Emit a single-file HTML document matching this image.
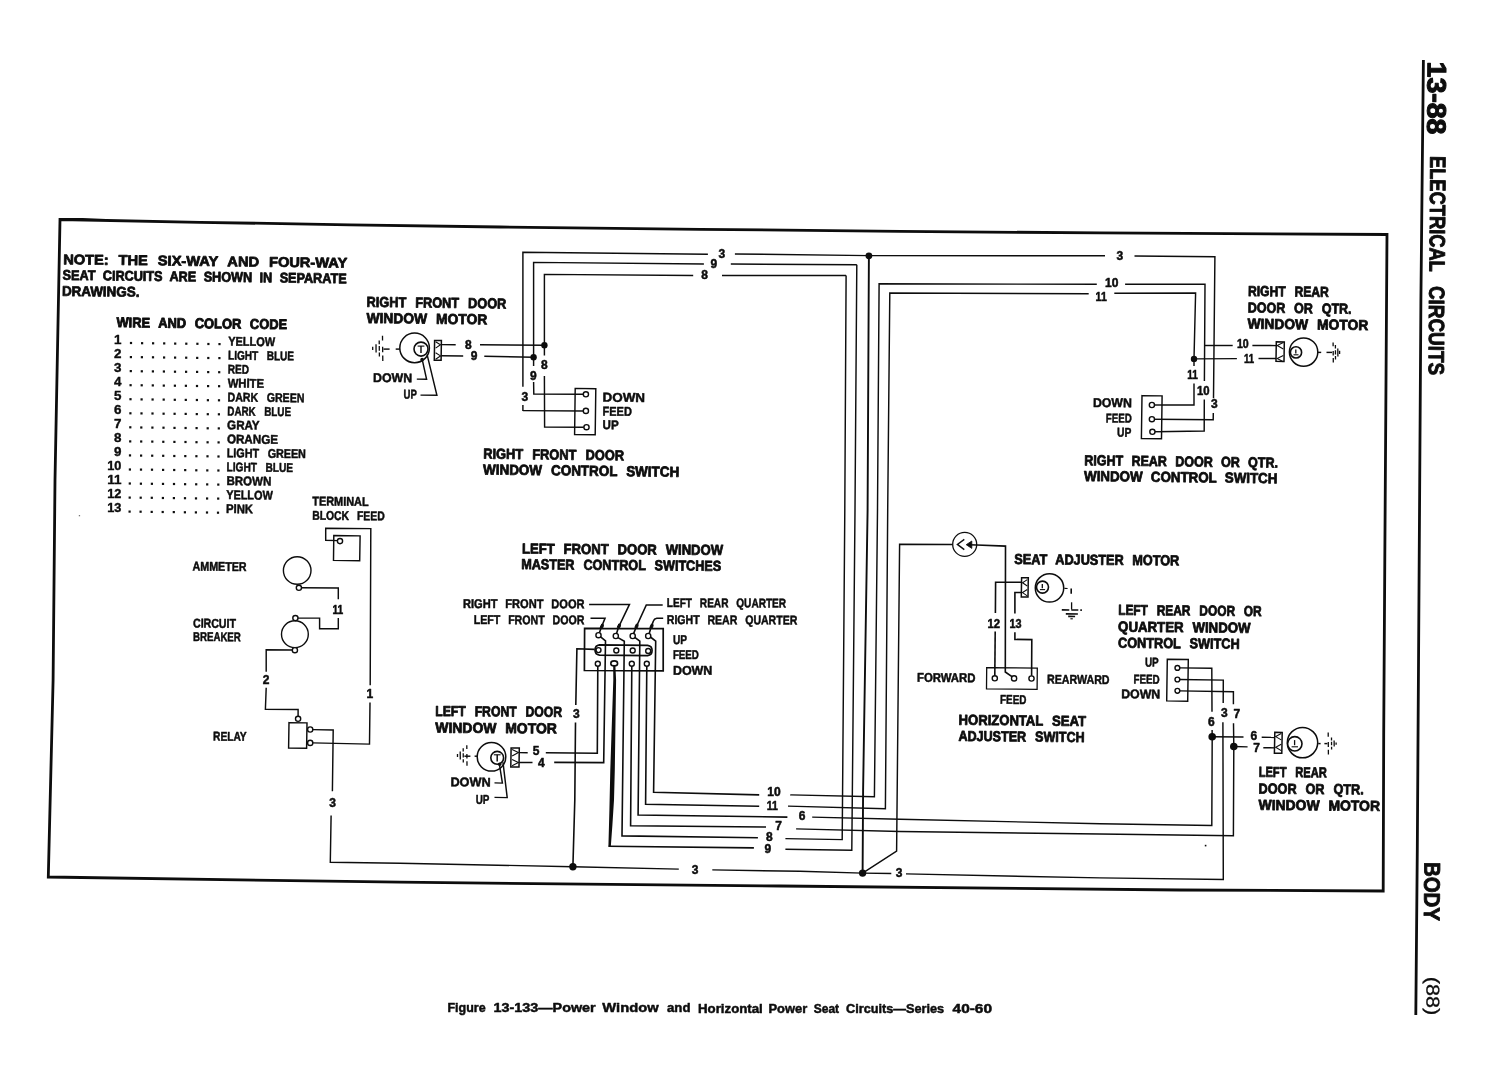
<!DOCTYPE html>
<html lang="en">
<head>
<meta charset="utf-8">
<title>Figure 13-133 Power Window and Horizontal Power Seat Circuits</title>
<style>
html,body{margin:0;padding:0;background:#fff;}
body{width:1492px;height:1088px;overflow:hidden;}
svg{display:block;will-change:transform;}
svg text{font-family:"Liberation Sans",sans-serif;font-weight:700;fill:#0d0d0d;stroke:none;}
</style>
</head>
<body>
<svg width="1492" height="1088" viewBox="0 0 1492 1088" fill="none" stroke="#0d0d0d" stroke-width="1.45" stroke-linecap="butt" stroke-linejoin="miter">
<rect x="0" y="0" width="1492" height="1088" fill="#fff" stroke="none"/>
<g id="frame">
<polyline points="60,219.5 200,222.3 350,224.8 500,227 700,229.3 900,231.4 1100,232.9 1387,234.5 1384.8,560 1383.7,735 1383.2,891 1180,890 780,886 400,882.2 48.3,877 53.1,680 55,480 60,219.5 200,222.3" stroke-width="2.8"/>
<polyline points="1423.4,60 1420.9,300 1417.3,850 1415.8,1015" stroke-width="2.8"/>
</g>
<g id="header">
<text x="1427.7" y="61.6" font-size="26.6" style="stroke:#0d0d0d;stroke-width:1.1px;stroke-linejoin:round;" textLength="72.8" lengthAdjust="spacingAndGlyphs" transform="rotate(90.4 1427.7 61.6)">13-88</text>
<text x="1430.3" y="156" font-size="22" style="stroke:#0d0d0d;stroke-width:0.9px;stroke-linejoin:round;" textLength="115.8" lengthAdjust="spacingAndGlyphs" transform="rotate(90.4 1430.3 156)">ELECTRICAL</text>
<text x="1429.2" y="286" font-size="22" style="stroke:#0d0d0d;stroke-width:0.9px;stroke-linejoin:round;" textLength="89" lengthAdjust="spacingAndGlyphs" transform="rotate(90.4 1429.2 286)">CIRCUITS</text>
<text x="1424.4" y="862" font-size="22.5" style="stroke:#0d0d0d;stroke-width:0.9px;stroke-linejoin:round;" textLength="59" lengthAdjust="spacingAndGlyphs" transform="rotate(90.4 1424.4 862)">BODY</text>
<text x="1426.6" y="976.7" font-size="18.5" style="font-weight:400;stroke:#0d0d0d;stroke-width:0.3px;stroke-linejoin:round;" textLength="38.5" lengthAdjust="spacingAndGlyphs" transform="rotate(90.4 1426.6 976.7)">(88)</text>
</g>
<g id="caption">
<text font-size="13.2" style="stroke:#0d0d0d;stroke-width:0.5px;stroke-linejoin:round;"><tspan x="447.5" y="1011.6" textLength="38.1" lengthAdjust="spacingAndGlyphs">Figure</tspan> <tspan x="493.5" y="1011.8" textLength="102.2" lengthAdjust="spacingAndGlyphs">13-133—Power</tspan> <tspan x="602.3" y="1012.1" textLength="56.3" lengthAdjust="spacingAndGlyphs">Window</tspan> <tspan x="667" y="1012.4" textLength="23.5" lengthAdjust="spacingAndGlyphs">and</tspan> <tspan x="698" y="1012.5" textLength="64.8" lengthAdjust="spacingAndGlyphs">Horizontal</tspan> <tspan x="768.4" y="1012.7" textLength="38.8" lengthAdjust="spacingAndGlyphs">Power</tspan> <tspan x="813.8" y="1012.9" textLength="25.3" lengthAdjust="spacingAndGlyphs">Seat</tspan> <tspan x="846" y="1013" textLength="98.2" lengthAdjust="spacingAndGlyphs">Circuits—Series</tspan> <tspan x="952.6" y="1013.4" textLength="39.4" lengthAdjust="spacingAndGlyphs">40-60</tspan></text>
</g>
<g id="legend">
<text x="63.2" y="264.2" font-size="14" style="word-spacing:5.7px;stroke:#0d0d0d;stroke-width:0.8px;stroke-linejoin:round;" textLength="284" lengthAdjust="spacingAndGlyphs" transform="rotate(0.7 63.2 264.2)">NOTE: THE SIX-WAY AND FOUR-WAY</text>
<text x="62.6" y="279.8" font-size="14" style="word-spacing:4.4px;stroke:#0d0d0d;stroke-width:0.8px;stroke-linejoin:round;" textLength="284" lengthAdjust="spacingAndGlyphs" transform="rotate(0.7 62.6 279.8)">SEAT CIRCUITS ARE SHOWN IN SEPARATE</text>
<text x="61.9" y="295.8" font-size="14" style="stroke:#0d0d0d;stroke-width:0.8px;stroke-linejoin:round;" textLength="77.5" lengthAdjust="spacingAndGlyphs" transform="rotate(0.7 61.9 295.8)">DRAWINGS.</text>
<text x="116.5" y="327.1" font-size="14" style="word-spacing:5.6px;stroke:#0d0d0d;stroke-width:0.9px;stroke-linejoin:round;" textLength="170.5" lengthAdjust="spacingAndGlyphs" transform="rotate(0.7 116.5 327.1)">WIRE AND COLOR CODE</text>
<text x="121.4" y="343.6" font-size="13.4" style="stroke:#0d0d0d;stroke-width:0.4px;stroke-linejoin:round;" text-anchor="end">1</text>
<rect x="129.9" y="341.9" width="2.2" height="2.2" fill="#0d0d0d" stroke="none"/>
<rect x="141" y="342.1" width="2.2" height="2.2" fill="#0d0d0d" stroke="none"/>
<rect x="152" y="342.2" width="2.2" height="2.2" fill="#0d0d0d" stroke="none"/>
<rect x="163.1" y="342.3" width="2.2" height="2.2" fill="#0d0d0d" stroke="none"/>
<rect x="174.1" y="342.5" width="2.2" height="2.2" fill="#0d0d0d" stroke="none"/>
<rect x="185.2" y="342.6" width="2.2" height="2.2" fill="#0d0d0d" stroke="none"/>
<rect x="196.3" y="342.7" width="2.2" height="2.2" fill="#0d0d0d" stroke="none"/>
<rect x="207.3" y="342.9" width="2.2" height="2.2" fill="#0d0d0d" stroke="none"/>
<rect x="218.4" y="343" width="2.2" height="2.2" fill="#0d0d0d" stroke="none"/>
<text x="228.2" y="345.6" font-size="12.6" style="stroke:#0d0d0d;stroke-width:0.5px;stroke-linejoin:round;" textLength="46.8" lengthAdjust="spacingAndGlyphs" transform="rotate(0.7 228.2 345.6)">YELLOW</text>
<text x="121.4" y="357.7" font-size="13.4" style="stroke:#0d0d0d;stroke-width:0.4px;stroke-linejoin:round;" text-anchor="end">2</text>
<rect x="129.8" y="356" width="2.2" height="2.2" fill="#0d0d0d" stroke="none"/>
<rect x="140.8" y="356.1" width="2.2" height="2.2" fill="#0d0d0d" stroke="none"/>
<rect x="151.9" y="356.2" width="2.2" height="2.2" fill="#0d0d0d" stroke="none"/>
<rect x="163" y="356.4" width="2.2" height="2.2" fill="#0d0d0d" stroke="none"/>
<rect x="174" y="356.5" width="2.2" height="2.2" fill="#0d0d0d" stroke="none"/>
<rect x="185.1" y="356.6" width="2.2" height="2.2" fill="#0d0d0d" stroke="none"/>
<rect x="196.1" y="356.8" width="2.2" height="2.2" fill="#0d0d0d" stroke="none"/>
<rect x="207.2" y="356.9" width="2.2" height="2.2" fill="#0d0d0d" stroke="none"/>
<rect x="218.3" y="357" width="2.2" height="2.2" fill="#0d0d0d" stroke="none"/>
<text x="228" y="359.6" font-size="12.6" style="word-spacing:7.3px;stroke:#0d0d0d;stroke-width:0.5px;stroke-linejoin:round;" textLength="66" lengthAdjust="spacingAndGlyphs" transform="rotate(0.7 228 359.6)">LIGHT BLUE</text>
<text x="121.4" y="371.7" font-size="13.4" style="stroke:#0d0d0d;stroke-width:0.4px;stroke-linejoin:round;" text-anchor="end">3</text>
<rect x="129.7" y="370" width="2.2" height="2.2" fill="#0d0d0d" stroke="none"/>
<rect x="140.7" y="370.2" width="2.2" height="2.2" fill="#0d0d0d" stroke="none"/>
<rect x="151.8" y="370.3" width="2.2" height="2.2" fill="#0d0d0d" stroke="none"/>
<rect x="162.8" y="370.4" width="2.2" height="2.2" fill="#0d0d0d" stroke="none"/>
<rect x="173.9" y="370.6" width="2.2" height="2.2" fill="#0d0d0d" stroke="none"/>
<rect x="185" y="370.7" width="2.2" height="2.2" fill="#0d0d0d" stroke="none"/>
<rect x="196" y="370.8" width="2.2" height="2.2" fill="#0d0d0d" stroke="none"/>
<rect x="207.1" y="371" width="2.2" height="2.2" fill="#0d0d0d" stroke="none"/>
<rect x="218.1" y="371.1" width="2.2" height="2.2" fill="#0d0d0d" stroke="none"/>
<text x="227.8" y="373.5" font-size="12.6" style="stroke:#0d0d0d;stroke-width:0.5px;stroke-linejoin:round;" textLength="21.2" lengthAdjust="spacingAndGlyphs" transform="rotate(0.7 227.8 373.5)">RED</text>
<text x="121.4" y="385.8" font-size="13.4" style="stroke:#0d0d0d;stroke-width:0.4px;stroke-linejoin:round;" text-anchor="end">4</text>
<rect x="129.5" y="384.1" width="2.2" height="2.2" fill="#0d0d0d" stroke="none"/>
<rect x="140.6" y="384.2" width="2.2" height="2.2" fill="#0d0d0d" stroke="none"/>
<rect x="151.7" y="384.3" width="2.2" height="2.2" fill="#0d0d0d" stroke="none"/>
<rect x="162.7" y="384.5" width="2.2" height="2.2" fill="#0d0d0d" stroke="none"/>
<rect x="173.8" y="384.6" width="2.2" height="2.2" fill="#0d0d0d" stroke="none"/>
<rect x="184.8" y="384.7" width="2.2" height="2.2" fill="#0d0d0d" stroke="none"/>
<rect x="195.9" y="384.9" width="2.2" height="2.2" fill="#0d0d0d" stroke="none"/>
<rect x="207" y="385" width="2.2" height="2.2" fill="#0d0d0d" stroke="none"/>
<rect x="218" y="385.1" width="2.2" height="2.2" fill="#0d0d0d" stroke="none"/>
<text x="227.7" y="387.4" font-size="12.6" style="stroke:#0d0d0d;stroke-width:0.5px;stroke-linejoin:round;" textLength="36.3" lengthAdjust="spacingAndGlyphs" transform="rotate(0.7 227.7 387.4)">WHITE</text>
<text x="121.4" y="399.8" font-size="13.4" style="stroke:#0d0d0d;stroke-width:0.4px;stroke-linejoin:round;" text-anchor="end">5</text>
<rect x="129.4" y="398.1" width="2.2" height="2.2" fill="#0d0d0d" stroke="none"/>
<rect x="140.5" y="398.3" width="2.2" height="2.2" fill="#0d0d0d" stroke="none"/>
<rect x="151.5" y="398.4" width="2.2" height="2.2" fill="#0d0d0d" stroke="none"/>
<rect x="162.6" y="398.5" width="2.2" height="2.2" fill="#0d0d0d" stroke="none"/>
<rect x="173.7" y="398.7" width="2.2" height="2.2" fill="#0d0d0d" stroke="none"/>
<rect x="184.7" y="398.8" width="2.2" height="2.2" fill="#0d0d0d" stroke="none"/>
<rect x="195.8" y="398.9" width="2.2" height="2.2" fill="#0d0d0d" stroke="none"/>
<rect x="206.8" y="399.1" width="2.2" height="2.2" fill="#0d0d0d" stroke="none"/>
<rect x="217.9" y="399.2" width="2.2" height="2.2" fill="#0d0d0d" stroke="none"/>
<text x="227.5" y="401.4" font-size="12.6" style="word-spacing:6.7px;stroke:#0d0d0d;stroke-width:0.5px;stroke-linejoin:round;" textLength="76.9" lengthAdjust="spacingAndGlyphs" transform="rotate(0.7 227.5 401.4)">DARK GREEN</text>
<text x="121.4" y="413.9" font-size="13.4" style="stroke:#0d0d0d;stroke-width:0.4px;stroke-linejoin:round;" text-anchor="end">6</text>
<rect x="129.3" y="412.2" width="2.2" height="2.2" fill="#0d0d0d" stroke="none"/>
<rect x="140.4" y="412.3" width="2.2" height="2.2" fill="#0d0d0d" stroke="none"/>
<rect x="151.4" y="412.4" width="2.2" height="2.2" fill="#0d0d0d" stroke="none"/>
<rect x="162.5" y="412.6" width="2.2" height="2.2" fill="#0d0d0d" stroke="none"/>
<rect x="173.5" y="412.7" width="2.2" height="2.2" fill="#0d0d0d" stroke="none"/>
<rect x="184.6" y="412.8" width="2.2" height="2.2" fill="#0d0d0d" stroke="none"/>
<rect x="195.7" y="413" width="2.2" height="2.2" fill="#0d0d0d" stroke="none"/>
<rect x="206.7" y="413.1" width="2.2" height="2.2" fill="#0d0d0d" stroke="none"/>
<rect x="217.8" y="413.2" width="2.2" height="2.2" fill="#0d0d0d" stroke="none"/>
<text x="227.3" y="415.4" font-size="12.6" style="word-spacing:7.5px;stroke:#0d0d0d;stroke-width:0.5px;stroke-linejoin:round;" textLength="63.7" lengthAdjust="spacingAndGlyphs" transform="rotate(0.7 227.3 415.4)">DARK BLUE</text>
<text x="121.4" y="427.9" font-size="13.4" style="stroke:#0d0d0d;stroke-width:0.4px;stroke-linejoin:round;" text-anchor="end">7</text>
<rect x="129.2" y="426.2" width="2.2" height="2.2" fill="#0d0d0d" stroke="none"/>
<rect x="140.2" y="426.4" width="2.2" height="2.2" fill="#0d0d0d" stroke="none"/>
<rect x="151.3" y="426.5" width="2.2" height="2.2" fill="#0d0d0d" stroke="none"/>
<rect x="162.4" y="426.6" width="2.2" height="2.2" fill="#0d0d0d" stroke="none"/>
<rect x="173.4" y="426.8" width="2.2" height="2.2" fill="#0d0d0d" stroke="none"/>
<rect x="184.5" y="426.9" width="2.2" height="2.2" fill="#0d0d0d" stroke="none"/>
<rect x="195.5" y="427" width="2.2" height="2.2" fill="#0d0d0d" stroke="none"/>
<rect x="206.6" y="427.2" width="2.2" height="2.2" fill="#0d0d0d" stroke="none"/>
<rect x="217.7" y="427.3" width="2.2" height="2.2" fill="#0d0d0d" stroke="none"/>
<text x="227.1" y="429.3" font-size="12.6" style="stroke:#0d0d0d;stroke-width:0.5px;stroke-linejoin:round;" textLength="32.5" lengthAdjust="spacingAndGlyphs" transform="rotate(0.7 227.1 429.3)">GRAY</text>
<text x="121.4" y="442" font-size="13.4" style="stroke:#0d0d0d;stroke-width:0.4px;stroke-linejoin:round;" text-anchor="end">8</text>
<rect x="129.1" y="440.3" width="2.2" height="2.2" fill="#0d0d0d" stroke="none"/>
<rect x="140.1" y="440.4" width="2.2" height="2.2" fill="#0d0d0d" stroke="none"/>
<rect x="151.2" y="440.5" width="2.2" height="2.2" fill="#0d0d0d" stroke="none"/>
<rect x="162.2" y="440.7" width="2.2" height="2.2" fill="#0d0d0d" stroke="none"/>
<rect x="173.3" y="440.8" width="2.2" height="2.2" fill="#0d0d0d" stroke="none"/>
<rect x="184.4" y="440.9" width="2.2" height="2.2" fill="#0d0d0d" stroke="none"/>
<rect x="195.4" y="441.1" width="2.2" height="2.2" fill="#0d0d0d" stroke="none"/>
<rect x="206.5" y="441.2" width="2.2" height="2.2" fill="#0d0d0d" stroke="none"/>
<rect x="217.5" y="441.3" width="2.2" height="2.2" fill="#0d0d0d" stroke="none"/>
<text x="226.9" y="443.3" font-size="12.6" style="stroke:#0d0d0d;stroke-width:0.5px;stroke-linejoin:round;" textLength="51.1" lengthAdjust="spacingAndGlyphs" transform="rotate(0.7 226.9 443.3)">ORANGE</text>
<text x="121.4" y="456" font-size="13.4" style="stroke:#0d0d0d;stroke-width:0.4px;stroke-linejoin:round;" text-anchor="end">9</text>
<rect x="128.9" y="454.3" width="2.2" height="2.2" fill="#0d0d0d" stroke="none"/>
<rect x="140" y="454.5" width="2.2" height="2.2" fill="#0d0d0d" stroke="none"/>
<rect x="151.1" y="454.6" width="2.2" height="2.2" fill="#0d0d0d" stroke="none"/>
<rect x="162.1" y="454.7" width="2.2" height="2.2" fill="#0d0d0d" stroke="none"/>
<rect x="173.2" y="454.9" width="2.2" height="2.2" fill="#0d0d0d" stroke="none"/>
<rect x="184.2" y="455" width="2.2" height="2.2" fill="#0d0d0d" stroke="none"/>
<rect x="195.3" y="455.1" width="2.2" height="2.2" fill="#0d0d0d" stroke="none"/>
<rect x="206.4" y="455.2" width="2.2" height="2.2" fill="#0d0d0d" stroke="none"/>
<rect x="217.4" y="455.4" width="2.2" height="2.2" fill="#0d0d0d" stroke="none"/>
<text x="226.8" y="457.2" font-size="12.6" style="word-spacing:6.6px;stroke:#0d0d0d;stroke-width:0.5px;stroke-linejoin:round;" textLength="79.1" lengthAdjust="spacingAndGlyphs" transform="rotate(0.7 226.8 457.2)">LIGHT GREEN</text>
<text x="121.4" y="470.1" font-size="13.4" style="stroke:#0d0d0d;stroke-width:0.4px;stroke-linejoin:round;" textLength="14.2" lengthAdjust="spacingAndGlyphs" text-anchor="end">10</text>
<rect x="128.8" y="468.4" width="2.2" height="2.2" fill="#0d0d0d" stroke="none"/>
<rect x="139.9" y="468.5" width="2.2" height="2.2" fill="#0d0d0d" stroke="none"/>
<rect x="150.9" y="468.6" width="2.2" height="2.2" fill="#0d0d0d" stroke="none"/>
<rect x="162" y="468.8" width="2.2" height="2.2" fill="#0d0d0d" stroke="none"/>
<rect x="173.1" y="468.9" width="2.2" height="2.2" fill="#0d0d0d" stroke="none"/>
<rect x="184.1" y="469" width="2.2" height="2.2" fill="#0d0d0d" stroke="none"/>
<rect x="195.2" y="469.2" width="2.2" height="2.2" fill="#0d0d0d" stroke="none"/>
<rect x="206.2" y="469.3" width="2.2" height="2.2" fill="#0d0d0d" stroke="none"/>
<rect x="217.3" y="469.4" width="2.2" height="2.2" fill="#0d0d0d" stroke="none"/>
<text x="226.6" y="471.2" font-size="12.6" style="word-spacing:7.2px;stroke:#0d0d0d;stroke-width:0.5px;stroke-linejoin:round;" textLength="66.4" lengthAdjust="spacingAndGlyphs" transform="rotate(0.7 226.6 471.2)">LIGHT BLUE</text>
<text x="121.4" y="484.1" font-size="13.4" style="stroke:#0d0d0d;stroke-width:0.4px;stroke-linejoin:round;" textLength="14.2" lengthAdjust="spacingAndGlyphs" text-anchor="end">11</text>
<rect x="128.7" y="482.4" width="2.2" height="2.2" fill="#0d0d0d" stroke="none"/>
<rect x="139.8" y="482.6" width="2.2" height="2.2" fill="#0d0d0d" stroke="none"/>
<rect x="150.8" y="482.7" width="2.2" height="2.2" fill="#0d0d0d" stroke="none"/>
<rect x="161.9" y="482.8" width="2.2" height="2.2" fill="#0d0d0d" stroke="none"/>
<rect x="172.9" y="482.9" width="2.2" height="2.2" fill="#0d0d0d" stroke="none"/>
<rect x="184" y="483.1" width="2.2" height="2.2" fill="#0d0d0d" stroke="none"/>
<rect x="195.1" y="483.2" width="2.2" height="2.2" fill="#0d0d0d" stroke="none"/>
<rect x="206.1" y="483.3" width="2.2" height="2.2" fill="#0d0d0d" stroke="none"/>
<rect x="217.2" y="483.5" width="2.2" height="2.2" fill="#0d0d0d" stroke="none"/>
<text x="226.4" y="485.1" font-size="12.6" style="stroke:#0d0d0d;stroke-width:0.5px;stroke-linejoin:round;" textLength="44.9" lengthAdjust="spacingAndGlyphs" transform="rotate(0.7 226.4 485.1)">BROWN</text>
<text x="121.4" y="498.2" font-size="13.4" style="stroke:#0d0d0d;stroke-width:0.4px;stroke-linejoin:round;" textLength="14.2" lengthAdjust="spacingAndGlyphs" text-anchor="end">12</text>
<rect x="128.6" y="496.5" width="2.2" height="2.2" fill="#0d0d0d" stroke="none"/>
<rect x="139.6" y="496.6" width="2.2" height="2.2" fill="#0d0d0d" stroke="none"/>
<rect x="150.7" y="496.7" width="2.2" height="2.2" fill="#0d0d0d" stroke="none"/>
<rect x="161.8" y="496.9" width="2.2" height="2.2" fill="#0d0d0d" stroke="none"/>
<rect x="172.8" y="497" width="2.2" height="2.2" fill="#0d0d0d" stroke="none"/>
<rect x="183.9" y="497.1" width="2.2" height="2.2" fill="#0d0d0d" stroke="none"/>
<rect x="194.9" y="497.3" width="2.2" height="2.2" fill="#0d0d0d" stroke="none"/>
<rect x="206" y="497.4" width="2.2" height="2.2" fill="#0d0d0d" stroke="none"/>
<rect x="217.1" y="497.5" width="2.2" height="2.2" fill="#0d0d0d" stroke="none"/>
<text x="226.2" y="499.1" font-size="12.6" style="stroke:#0d0d0d;stroke-width:0.5px;stroke-linejoin:round;" textLength="46.6" lengthAdjust="spacingAndGlyphs" transform="rotate(0.7 226.2 499.1)">YELLOW</text>
<text x="121.4" y="512.2" font-size="13.4" style="stroke:#0d0d0d;stroke-width:0.4px;stroke-linejoin:round;" textLength="14.2" lengthAdjust="spacingAndGlyphs" text-anchor="end">13</text>
<rect x="128.5" y="510.5" width="2.2" height="2.2" fill="#0d0d0d" stroke="none"/>
<rect x="139.5" y="510.6" width="2.2" height="2.2" fill="#0d0d0d" stroke="none"/>
<rect x="150.6" y="510.8" width="2.2" height="2.2" fill="#0d0d0d" stroke="none"/>
<rect x="161.6" y="510.9" width="2.2" height="2.2" fill="#0d0d0d" stroke="none"/>
<rect x="172.7" y="511" width="2.2" height="2.2" fill="#0d0d0d" stroke="none"/>
<rect x="183.8" y="511.2" width="2.2" height="2.2" fill="#0d0d0d" stroke="none"/>
<rect x="194.8" y="511.3" width="2.2" height="2.2" fill="#0d0d0d" stroke="none"/>
<rect x="205.9" y="511.4" width="2.2" height="2.2" fill="#0d0d0d" stroke="none"/>
<rect x="216.9" y="511.6" width="2.2" height="2.2" fill="#0d0d0d" stroke="none"/>
<text x="226" y="513" font-size="12.6" style="stroke:#0d0d0d;stroke-width:0.5px;stroke-linejoin:round;" textLength="27" lengthAdjust="spacingAndGlyphs" transform="rotate(0.7 226 513)">PINK</text>
<rect x="78.8" y="515" width="1.3" height="1.3" fill="#777" stroke="none"/>
</g>
<g id="rf">
<text x="366.6" y="306.8" font-size="14.4" style="word-spacing:6.1px;stroke:#0d0d0d;stroke-width:0.8px;stroke-linejoin:round;" textLength="139.7" lengthAdjust="spacingAndGlyphs" transform="rotate(0.7 366.6 306.8)">RIGHT FRONT DOOR</text>
<text x="366.4" y="322.9" font-size="14.4" style="word-spacing:5.3px;stroke:#0d0d0d;stroke-width:0.8px;stroke-linejoin:round;" textLength="120.9" lengthAdjust="spacingAndGlyphs" transform="rotate(0.7 366.4 322.9)">WINDOW MOTOR</text>
<circle cx="414.6" cy="347.9" r="14.8" fill="#fff" stroke-width="1.5"/>
<circle cx="421" cy="349.1" r="7" fill="#fff" stroke-width="1.6"/>
<polyline points="417.6,346.1 424.4,346.1" stroke-width="1.1"/>
<polyline points="421,346.1 421,352.9"/>
<polyline points="399.9,349.1 395.7,349.1"/>
<polyline points="389.6,349.1 383.5,349.1"/>
<polyline points="382.5,335.8 382.8,361" stroke-width="1.3" stroke-dasharray="4.8 6.1 5.6 3.3 5.6 99"/>
<polyline points="379.2,340.4 379.4,356.4" stroke-width="1.3" stroke-dasharray="3.8 1.9 4.6 1.9 3.8 99"/>
<polyline points="376,344.2 376.1,352.6" stroke-width="1.3"/>
<polyline points="372.7,346.8 372.7,350" stroke-width="1.3"/>
<polygon points="434.6,340.5 441.4,340.6 441.1,360.3 434.3,360.2" fill="#fff" stroke-width="1.5"/>
<polyline points="435.6,341.7 440.5,344.8 435.6,348.1" stroke-width="1.1"/>
<polyline points="435.6,352.8 440.5,355.9 435.6,359.2" stroke-width="1.1"/>
<polyline points="441.4,344.6 455.7,344.7"/>
<text x="465.1" y="349.1" font-size="12" style="stroke:#0d0d0d;stroke-width:0.5px;stroke-linejoin:round;">8</text>
<polyline points="480,344.8 544.4,345.2"/>
<polyline points="441.4,355.8 463.2,356"/>
<text x="470.7" y="360.4" font-size="12" style="stroke:#0d0d0d;stroke-width:0.5px;stroke-linejoin:round;">9</text>
<polyline points="484.3,356.3 533.6,357.3"/>
<circle cx="544.4" cy="345.2" r="3.2" fill="#0d0d0d" stroke="none"/>
<circle cx="533.6" cy="357.3" r="3.2" fill="#0d0d0d" stroke="none"/>
<text x="373.1" y="381.9" font-size="12.6" style="stroke:#0d0d0d;stroke-width:0.5px;stroke-linejoin:round;" textLength="39" lengthAdjust="spacingAndGlyphs" transform="rotate(0.5 373.1 381.9)">DOWN</text>
<text x="403.6" y="398.4" font-size="12.6" style="stroke:#0d0d0d;stroke-width:0.5px;stroke-linejoin:round;" textLength="13.2" lengthAdjust="spacingAndGlyphs" transform="rotate(0.5 403.6 398.4)">UP</text>
<polyline points="416.8,379.1 426.6,379.3 422.4,360.3"/>
<circle cx="422.1" cy="359.6" r="1.8" fill="#0d0d0d" stroke="none"/>
<polyline points="420.5,395.1 436.9,395.3 427.1,354.7"/>
<polyline points="522.9,410.9 522.9,405"/>
<polyline points="522.9,386.7 522.9,252.2 707.9,254.3"/>
<polyline points="533.6,366.1 533.6,262.4 703.9,264"/>
<polyline points="544.4,355.4 544.4,274.4 693.2,275.5"/>
<text x="718.6" y="257.5" font-size="12" style="stroke:#0d0d0d;stroke-width:0.5px;stroke-linejoin:round;">3</text>
<text x="710.6" y="267.6" font-size="12" style="stroke:#0d0d0d;stroke-width:0.5px;stroke-linejoin:round;">9</text>
<text x="701.2" y="278.6" font-size="12" style="stroke:#0d0d0d;stroke-width:0.5px;stroke-linejoin:round;">8</text>
<text x="541" y="368.8" font-size="12" style="stroke:#0d0d0d;stroke-width:0.5px;stroke-linejoin:round;">8</text>
<text x="530" y="379.7" font-size="12" style="stroke:#0d0d0d;stroke-width:0.5px;stroke-linejoin:round;">9</text>
<text x="521.4" y="401.2" font-size="12" style="stroke:#0d0d0d;stroke-width:0.5px;stroke-linejoin:round;">3</text>
<polygon points="575.2,388.4 595.8,388.7 595.2,434.8 574.6,434.5" fill="#fff"/>
<polyline points="533.6,382 533.8,394 583.3,394.3"/>
<polyline points="522.9,410.6 583.3,410.9"/>
<polyline points="544.4,376 544.6,427 583.9,427.2"/>
<circle cx="585.9" cy="394.3" r="2.6" fill="#fff" stroke-width="1.4"/>
<circle cx="585.9" cy="410.9" r="2.6" fill="#fff" stroke-width="1.4"/>
<circle cx="586.5" cy="427.2" r="2.6" fill="#fff" stroke-width="1.4"/>
<text x="602.6" y="401.6" font-size="12.7" style="stroke:#0d0d0d;stroke-width:0.5px;stroke-linejoin:round;" textLength="42.4" lengthAdjust="spacingAndGlyphs" transform="rotate(0.5 602.6 401.6)">DOWN</text>
<text x="602.6" y="415.6" font-size="12.7" style="stroke:#0d0d0d;stroke-width:0.5px;stroke-linejoin:round;" textLength="29.2" lengthAdjust="spacingAndGlyphs" transform="rotate(0.5 602.6 415.6)">FEED</text>
<text x="602.6" y="429.1" font-size="12.7" style="stroke:#0d0d0d;stroke-width:0.5px;stroke-linejoin:round;" textLength="16" lengthAdjust="spacingAndGlyphs" transform="rotate(0.5 602.6 429.1)">UP</text>
<text x="483.2" y="458.6" font-size="14.4" style="word-spacing:6px;stroke:#0d0d0d;stroke-width:0.8px;stroke-linejoin:round;" textLength="140.8" lengthAdjust="spacingAndGlyphs" transform="rotate(0.7 483.2 458.6)">RIGHT FRONT DOOR</text>
<text x="483" y="474.4" font-size="14.4" style="word-spacing:5.6px;stroke:#0d0d0d;stroke-width:0.8px;stroke-linejoin:round;" textLength="196.2" lengthAdjust="spacingAndGlyphs" transform="rotate(0.7 483 474.4)">WINDOW CONTROL SWITCH</text>
</g>
<g id="top">
<polyline points="734.9,254 868.9,255.6 1105,255.7"/>
<polyline points="730.8,264 856.8,264.8"/>
<polyline points="722,275.5 846.1,275.5"/>
</g>
<g id="bundle">
<circle cx="868.9" cy="255.8" r="3.4" fill="#0d0d0d" stroke="none"/>
<polyline points="846.1,275.5 844.8,510 842.2,839.6 785.4,838.6"/>
<polyline points="856.8,264.8 855,510 851.8,850.3 785.4,849.3"/>
<polyline points="868.9,255.8 867.6,510 863.1,790 862.6,873.1" stroke-width="1.9"/>
<polyline points="1096.8,284.3 879.1,283.8 877.5,510 874.4,796.7 790.7,794.9"/>
<polyline points="1088.7,293.7 889.8,292.9 887.7,510 885.4,808.8 788,806.1"/>
</g>
<g id="rr">
<text x="1116.5" y="260.2" font-size="12" style="stroke:#0d0d0d;stroke-width:0.5px;stroke-linejoin:round;">3</text>
<polyline points="1134.5,256 1214.9,256.7 1213.5,398.3"/>
<polyline points="1213.3,413 1213.2,419.7 1154.4,419.3"/>
<text x="1105" y="286.6" font-size="12" style="stroke:#0d0d0d;stroke-width:0.5px;stroke-linejoin:round;" textLength="13.4" lengthAdjust="spacingAndGlyphs">10</text>
<polyline points="1125.1,284.3 1205,284.3 1204.4,380.9"/>
<polyline points="1204.3,399.6 1204.2,431 1154.9,431.7"/>
<text x="1095.6" y="301.2" font-size="12" style="stroke:#0d0d0d;stroke-width:0.5px;stroke-linejoin:round;" textLength="11.2" lengthAdjust="spacingAndGlyphs">11</text>
<polyline points="1114.3,293.2 1195.6,292.9 1194,358.9 1194,366.1"/>
<polyline points="1194,383.5 1194,405 1154.4,405"/>
<circle cx="1194" cy="358.9" r="3.2" fill="#0d0d0d" stroke="none"/>
<text x="1187.3" y="378.7" font-size="12" style="stroke:#0d0d0d;stroke-width:0.5px;stroke-linejoin:round;" textLength="10.7" lengthAdjust="spacingAndGlyphs">11</text>
<text x="1196.9" y="394.8" font-size="12" style="stroke:#0d0d0d;stroke-width:0.5px;stroke-linejoin:round;" textLength="12.6" lengthAdjust="spacingAndGlyphs">10</text>
<text x="1210.9" y="407.7" font-size="12" style="stroke:#0d0d0d;stroke-width:0.5px;stroke-linejoin:round;">3</text>
<polyline points="1205,345.5 1232.7,345.5"/>
<text x="1236.9" y="348.4" font-size="12" style="stroke:#0d0d0d;stroke-width:0.5px;stroke-linejoin:round;" textLength="11.8" lengthAdjust="spacingAndGlyphs">10</text>
<polyline points="1252.4,345.5 1276.3,345.6"/>
<polyline points="1194,358.9 1236.9,358.6"/>
<text x="1243.9" y="363.4" font-size="12" style="stroke:#0d0d0d;stroke-width:0.5px;stroke-linejoin:round;" textLength="10.2" lengthAdjust="spacingAndGlyphs">11</text>
<polyline points="1258.5,358.5 1276.3,358.5"/>
<polygon points="1276.3,341.8 1284.3,341.9 1284,361.4 1276,361.3" fill="#fff" stroke-width="1.5"/>
<polyline points="1283.3,342.5 1277.2,345.6 1283.3,348.9" stroke-width="1.1"/>
<polyline points="1283.3,355.4 1277.2,358.5 1283.3,361.8" stroke-width="1.1"/>
<circle cx="1303.6" cy="352.1" r="14.2" fill="#fff" stroke-width="1.5"/>
<circle cx="1296" cy="352.4" r="5.6" fill="#fff" stroke-width="1.6"/>
<polyline points="1293.5,354.8 1298.5,354.8" stroke-width="1.1"/>
<polyline points="1295.8,349.5 1295.8,353.5" stroke-width="1.3"/>
<polyline points="1317.8,352.4 1321.2,352.4"/>
<polyline points="1326.5,352.4 1332.1,352.4"/>
<polyline points="1333.1,342.4 1333.3,362.4" stroke-width="1.3" stroke-dasharray="3.8 4.8 4.4 2.6 4.4 99"/>
<polyline points="1335.4,345.1 1335.5,359.6" stroke-width="1.3" stroke-dasharray="3.4 1.7 4.2 1.7 3.4 99"/>
<polyline points="1337.8,348.4 1337.9,356.4" stroke-width="1.3"/>
<polyline points="1339.6,350.8 1339.6,354" stroke-width="1.3"/>
<text x="1247.9" y="295.9" font-size="14.4" style="word-spacing:6.6px;stroke:#0d0d0d;stroke-width:0.8px;stroke-linejoin:round;" textLength="80.9" lengthAdjust="spacingAndGlyphs" transform="rotate(0.7 1247.9 295.9)">RIGHT REAR</text>
<text x="1247.7" y="312.5" font-size="14.4" style="word-spacing:6.3px;stroke:#0d0d0d;stroke-width:0.8px;stroke-linejoin:round;" textLength="103.9" lengthAdjust="spacingAndGlyphs" transform="rotate(0.7 1247.7 312.5)">DOOR OR QTR.</text>
<text x="1247.5" y="328.6" font-size="14.4" style="word-spacing:5.3px;stroke:#0d0d0d;stroke-width:0.8px;stroke-linejoin:round;" textLength="120.7" lengthAdjust="spacingAndGlyphs" transform="rotate(0.7 1247.5 328.6)">WINDOW MOTOR</text>
<polygon points="1142,395.6 1162.1,395.9 1161.5,438.8 1141.4,438.5" fill="#fff"/>
<polyline points="1154.4,405 1162,405"/>
<polyline points="1154.4,419.3 1162,419.3"/>
<polyline points="1154.9,431.7 1162,431.7"/>
<circle cx="1151.9" cy="405" r="2.6" fill="#fff" stroke-width="1.4"/>
<circle cx="1151.9" cy="419.2" r="2.6" fill="#fff" stroke-width="1.4"/>
<circle cx="1152.4" cy="431.8" r="2.6" fill="#fff" stroke-width="1.4"/>
<text x="1092.9" y="406.9" font-size="12.7" style="stroke:#0d0d0d;stroke-width:0.5px;stroke-linejoin:round;" textLength="38.9" lengthAdjust="spacingAndGlyphs" transform="rotate(0.5 1092.9 406.9)">DOWN</text>
<text x="1105.8" y="422.4" font-size="12.7" style="stroke:#0d0d0d;stroke-width:0.5px;stroke-linejoin:round;" textLength="26" lengthAdjust="spacingAndGlyphs" transform="rotate(0.5 1105.8 422.4)">FEED</text>
<text x="1117" y="436.6" font-size="12.7" style="stroke:#0d0d0d;stroke-width:0.5px;stroke-linejoin:round;" textLength="14.2" lengthAdjust="spacingAndGlyphs" transform="rotate(0.5 1117 436.6)">UP</text>
<text x="1084.3" y="465.2" font-size="14.4" style="word-spacing:5.6px;stroke:#0d0d0d;stroke-width:0.8px;stroke-linejoin:round;" textLength="193.6" lengthAdjust="spacingAndGlyphs" transform="rotate(0.7 1084.3 465.2)">RIGHT REAR DOOR OR QTR.</text>
<text x="1084.1" y="480.9" font-size="14.4" style="word-spacing:5px;stroke:#0d0d0d;stroke-width:0.8px;stroke-linejoin:round;" textLength="193.2" lengthAdjust="spacingAndGlyphs" transform="rotate(0.7 1084.1 480.9)">WINDOW CONTROL SWITCH</text>
</g>
<g id="feed">
<text x="312.3" y="505.5" font-size="12.7" style="stroke:#0d0d0d;stroke-width:0.5px;stroke-linejoin:round;" textLength="56.3" lengthAdjust="spacingAndGlyphs" transform="rotate(0.5 312.3 505.5)">TERMINAL</text>
<text x="312.2" y="519.7" font-size="12.7" style="word-spacing:6.1px;stroke:#0d0d0d;stroke-width:0.5px;stroke-linejoin:round;" textLength="72.5" lengthAdjust="spacingAndGlyphs" transform="rotate(0.5 312.2 519.7)">BLOCK FEED</text>
<polygon points="333.8,535.5 360.1,535.9 359.7,560.8 333.5,560.4" fill="none"/>
<polyline points="337.5,540.6 325.7,540.3 325.7,528.3 370.8,528.6 370.2,685.3"/>
<polyline points="370,702.5 369.5,744.1 312.7,742.9"/>
<circle cx="340" cy="541.1" r="2.6" fill="#fff" stroke-width="1.4"/>
<text x="366.6" y="698" font-size="12" style="stroke:#0d0d0d;stroke-width:0.5px;stroke-linejoin:round;">1</text>
<text x="192.5" y="570.6" font-size="12.7" style="stroke:#0d0d0d;stroke-width:0.5px;stroke-linejoin:round;" textLength="54.1" lengthAdjust="spacingAndGlyphs" transform="rotate(0.5 192.5 570.6)">AMMETER</text>
<circle cx="297.2" cy="570.5" r="13.8" fill="#fff" stroke-width="1.4"/>
<polyline points="301.4,587.8 338.3,587.9 338.3,599.3"/>
<circle cx="298.9" cy="587.8" r="2.6" fill="#fff" stroke-width="1.4"/>
<text x="332.4" y="614" font-size="12" style="stroke:#0d0d0d;stroke-width:0.5px;stroke-linejoin:round;" textLength="10.8" lengthAdjust="spacingAndGlyphs">11</text>
<polyline points="338.3,618.1 338.3,628.8 319.6,628.8 319.6,618.1 297.9,618.1"/>
<circle cx="294.9" cy="634.2" r="13.4" fill="#fff" stroke-width="1.4"/>
<circle cx="295.4" cy="618.1" r="2.6" fill="#fff" stroke-width="1.4"/>
<circle cx="294.9" cy="650.2" r="2.6" fill="#fff" stroke-width="1.4"/>
<text x="193" y="627.5" font-size="12.7" style="stroke:#0d0d0d;stroke-width:0.5px;stroke-linejoin:round;" textLength="42.9" lengthAdjust="spacingAndGlyphs" transform="rotate(0.5 193 627.5)">CIRCUIT</text>
<text x="193" y="640.9" font-size="12.7" style="stroke:#0d0d0d;stroke-width:0.5px;stroke-linejoin:round;" textLength="47.8" lengthAdjust="spacingAndGlyphs" transform="rotate(0.5 193 640.9)">BREAKER</text>
<polyline points="292.4,649.9 266.2,649.7 266.2,671.7"/>
<text x="262.7" y="683.8" font-size="12" style="stroke:#0d0d0d;stroke-width:0.5px;stroke-linejoin:round;">2</text>
<polyline points="266.2,687.8 265.4,709.2 298.1,709.4 298.1,716"/>
<polygon points="289,722.6 307,722.9 306.6,748.3 288.6,748.1" fill="#fff"/>
<circle cx="298.1" cy="718.8" r="2.6" fill="#fff" stroke-width="1.4"/>
<circle cx="310.2" cy="729.5" r="2.6" fill="#fff" stroke-width="1.4"/>
<circle cx="310.2" cy="742.9" r="2.6" fill="#fff" stroke-width="1.4"/>
<text x="213.1" y="740.6" font-size="12.7" style="stroke:#0d0d0d;stroke-width:0.5px;stroke-linejoin:round;" textLength="33.5" lengthAdjust="spacingAndGlyphs" transform="rotate(0.5 213.1 740.6)">RELAY</text>
<polyline points="312.7,729.6 333.2,730 332.4,791.3"/>
<text x="329.2" y="806.5" font-size="12" style="stroke:#0d0d0d;stroke-width:0.5px;stroke-linejoin:round;">3</text>
<polyline points="331.1,815.4 330.3,862.3 400,863.2 572.9,866.7 678.8,869.1"/>
</g>
<g id="master" stroke-width="1.6">
<text x="522" y="553.5" font-size="14.4" style="word-spacing:5.8px;stroke:#0d0d0d;stroke-width:0.8px;stroke-linejoin:round;" textLength="201.1" lengthAdjust="spacingAndGlyphs" transform="rotate(0.4 522 553.5)">LEFT FRONT DOOR WINDOW</text>
<text x="521.2" y="569.1" font-size="14.4" style="word-spacing:6.2px;stroke:#0d0d0d;stroke-width:0.8px;stroke-linejoin:round;" textLength="200" lengthAdjust="spacingAndGlyphs" transform="rotate(0.5 521.2 569.1)">MASTER CONTROL SWITCHES</text>
<text x="463" y="607.9" font-size="12.7" style="word-spacing:5.5px;stroke:#0d0d0d;stroke-width:0.5px;stroke-linejoin:round;" textLength="121.5" lengthAdjust="spacingAndGlyphs" transform="rotate(0.2 463 607.9)">RIGHT FRONT DOOR</text>
<text x="473.7" y="624" font-size="12.7" style="word-spacing:5.9px;stroke:#0d0d0d;stroke-width:0.5px;stroke-linejoin:round;" textLength="110.8" lengthAdjust="spacingAndGlyphs" transform="rotate(0.2 473.7 624)">LEFT FRONT DOOR</text>
<text x="666.8" y="607.1" font-size="12.7" style="word-spacing:6.4px;stroke:#0d0d0d;stroke-width:0.5px;stroke-linejoin:round;" textLength="119.3" lengthAdjust="spacingAndGlyphs" transform="rotate(0.2 666.8 607.1)">LEFT REAR QUARTER</text>
<text x="666.8" y="624" font-size="12.7" style="word-spacing:6px;stroke:#0d0d0d;stroke-width:0.5px;stroke-linejoin:round;" textLength="130.5" lengthAdjust="spacingAndGlyphs" transform="rotate(0.2 666.8 624)">RIGHT REAR QUARTER</text>
<text x="672.9" y="643.9" font-size="12.7" style="stroke:#0d0d0d;stroke-width:0.5px;stroke-linejoin:round;" textLength="14" lengthAdjust="spacingAndGlyphs" transform="rotate(0.3 672.9 643.9)">UP</text>
<text x="672.9" y="658.9" font-size="12.7" style="stroke:#0d0d0d;stroke-width:0.5px;stroke-linejoin:round;" textLength="26" lengthAdjust="spacingAndGlyphs" transform="rotate(0.3 672.9 658.9)">FEED</text>
<text x="672.9" y="674.7" font-size="12.7" style="stroke:#0d0d0d;stroke-width:0.5px;stroke-linejoin:round;" textLength="39.4" lengthAdjust="spacingAndGlyphs" transform="rotate(0.3 672.9 674.7)">DOWN</text>
<polyline points="584.6,628.3 663.2,628.6 663.2,670.8 584.4,670.5 584.6,628.3 600,628.3" stroke-width="1.7"/>
<polyline points="589.1,604.5 629.4,604.5 618.4,627.5 616.4,634"/>
<polyline points="590.5,618.2 605,618.3 601.3,627.5 599.3,633"/>
<polyline points="662.7,605 646.3,605 636,627.5 633.6,633.6"/>
<path d="M663.2 618.2 L656.8 618.3 Q654.2 618.6 653.4 621 L651 627.5 L649.2 633.6"/>
<path d="M600.1 627.5 l1.6 -3.4 l1.8 0.6 l-0.6 3 z" stroke-width="1" fill="#0d0d0d"/>
<path d="M617.2 627.3 l1.6 -3.4 l1.8 0.6 l-0.6 3 z" stroke-width="1" fill="#0d0d0d"/>
<path d="M634.8 627.4 l1.6 -3.4 l1.8 0.6 l-0.6 3 z" stroke-width="1" fill="#0d0d0d"/>
<path d="M649.8 627.5 l1.6 -3.4 l1.8 0.6 l-0.6 3 z" stroke-width="1" fill="#0d0d0d"/>
<path d="M599.5 644.9 L647.6 645.3 A5.2 5.2 0 0 1 647.6 655.6 L599.5 655.2 A5.2 5.2 0 0 1 599.5 644.9 Z" stroke-width="1.7"/>
<polyline points="594.6,649.4 576.9,648.8 575.8,705"/>
<text x="572.9" y="717.6" font-size="12" style="stroke:#0d0d0d;stroke-width:0.5px;stroke-linejoin:round;">3</text>
<polyline points="575.5,722.4 574.8,800 572.9,866.7"/>
<circle cx="572.9" cy="866.7" r="3.7" fill="#0d0d0d" stroke="none"/>
<circle cx="598.5" cy="635.2" r="2.6" fill="#fff" stroke-width="1.4"/>
<circle cx="615.8" cy="636" r="2.6" fill="#fff" stroke-width="1.4"/>
<circle cx="632.7" cy="636" r="2.6" fill="#fff" stroke-width="1.4"/>
<circle cx="648.2" cy="636" r="2.6" fill="#fff" stroke-width="1.4"/>
<polyline points="600.6,636.8 605.5,640.8 603.7,762.6 554.2,762.4"/>
<polyline points="618,637.6 624.3,641.2 622,835.9 757.9,837.7"/>
<polyline points="634.8,637.4 639.8,641.2 638.1,815 787.4,817.1"/>
<polyline points="650.4,637 655.7,641.2 653.6,792.2 759.2,794.9"/>
<circle cx="598.5" cy="650.1" r="2.5" fill="#fff" stroke-width="1.4"/>
<circle cx="616.3" cy="650.5" r="2.5" fill="#fff" stroke-width="1.4"/>
<circle cx="632.7" cy="650.5" r="2.5" fill="#fff" stroke-width="1.4"/>
<circle cx="648.2" cy="651" r="2.5" fill="#fff" stroke-width="1.4"/>
<circle cx="597.8" cy="663.7" r="2.5" fill="#fff" stroke-width="1.4"/>
<circle cx="631.8" cy="663.7" r="2.5" fill="#fff" stroke-width="1.4"/>
<circle cx="646.8" cy="663.7" r="2.5" fill="#fff" stroke-width="1.4"/>
<ellipse cx="614.2" cy="663.4" rx="3.4" ry="2.5" fill="#fff" stroke-width="1.6"/>
<polyline points="597.8,666.3 597.3,753.2 545.8,752.7"/>
<polygon points="613.2,666 615.4,666 616.1,680 614.8,770 614,800 612.4,825 610.8,846.8 608.4,846.8 609.4,810 610.3,770 613.3,680" fill="#0d0d0d" stroke="none"/>
<polyline points="608.6,846.2 753.9,847.9"/>
<polyline points="631.8,666.3 630.6,825.7 766,827"/>
<polyline points="646.8,666.3 645.6,804.3 759.2,806.3"/>
</g>
<g id="lf">
<text x="435.3" y="715.9" font-size="14.4" style="word-spacing:6.6px;stroke:#0d0d0d;stroke-width:0.8px;stroke-linejoin:round;" textLength="126.8" lengthAdjust="spacingAndGlyphs" transform="rotate(0.4 435.3 715.9)">LEFT FRONT DOOR</text>
<text x="435.3" y="732.6" font-size="14.4" style="word-spacing:5.2px;stroke:#0d0d0d;stroke-width:0.8px;stroke-linejoin:round;" textLength="121.5" lengthAdjust="spacingAndGlyphs" transform="rotate(0.4 435.3 732.6)">WINDOW MOTOR</text>
<circle cx="491.5" cy="756.8" r="14.3" fill="#fff" stroke-width="1.5"/>
<circle cx="497.2" cy="757.8" r="6.4" fill="#fff" stroke-width="1.6"/>
<polyline points="493.8,754.8 500.6,754.8" stroke-width="1.1"/>
<polyline points="497.2,754.8 497.2,761.6"/>
<polyline points="477,756.2 474.6,756.2"/>
<polyline points="470.4,756.2 464.4,756.2"/>
<polyline points="466.8,745.2 467,765.8" stroke-width="1.3" stroke-dasharray="3.9 4.9 4.5 2.7 4.5 99"/>
<polyline points="463.2,748.2 463.3,762.8" stroke-width="1.3" stroke-dasharray="3.4 1.7 4.2 1.7 3.4 99"/>
<polyline points="460.2,751.6 460.3,759.4" stroke-width="1.3"/>
<polyline points="457.5,754 457.5,757" stroke-width="1.3"/>
<polygon points="511.1,748 519.3,748.1 519,767.1 510.8,767" fill="#fff" stroke-width="1.5"/>
<polyline points="512.1,749.5 518.4,752.6 512.1,755.9" stroke-width="1.1"/>
<polyline points="512.1,759.4 518.4,762.5 512.1,765.8" stroke-width="1.1"/>
<polyline points="519.3,752.6 527.7,752.7"/>
<text x="532.7" y="754.6" font-size="12" style="stroke:#0d0d0d;stroke-width:0.5px;stroke-linejoin:round;">5</text>
<polyline points="519.3,762.4 532.5,762.5"/>
<text x="538.1" y="766.8" font-size="12" style="stroke:#0d0d0d;stroke-width:0.5px;stroke-linejoin:round;">4</text>
<text x="450.4" y="786.2" font-size="12.6" style="stroke:#0d0d0d;stroke-width:0.5px;stroke-linejoin:round;" textLength="40.2" lengthAdjust="spacingAndGlyphs" transform="rotate(0.5 450.4 786.2)">DOWN</text>
<text x="475.8" y="803.7" font-size="12.6" style="stroke:#0d0d0d;stroke-width:0.5px;stroke-linejoin:round;" textLength="13.6" lengthAdjust="spacingAndGlyphs" transform="rotate(0.5 475.8 803.7)">UP</text>
<polyline points="494.5,782.9 502.4,783.1 499.5,764.8"/>
<circle cx="499.6" cy="764.2" r="1.8" fill="#0d0d0d" stroke="none"/>
<polyline points="494.5,797.4 507.2,797.6 503,762.4"/>
</g>
<g id="bottom">
<text x="767.3" y="796.4" font-size="12" style="stroke:#0d0d0d;stroke-width:0.5px;stroke-linejoin:round;" textLength="13.4" lengthAdjust="spacingAndGlyphs">10</text>
<polyline points="790.1,795 790.7,794.9"/>
<text x="766.8" y="810.4" font-size="12" style="stroke:#0d0d0d;stroke-width:0.5px;stroke-linejoin:round;" textLength="11.2" lengthAdjust="spacingAndGlyphs">11</text>
<text x="798.8" y="819.5" font-size="12" style="stroke:#0d0d0d;stroke-width:0.5px;stroke-linejoin:round;">6</text>
<polyline points="812.2,817.1 900,819.3 1100,823.7 1211.8,825.5 1212.2,736.8 1212.1,730"/>
<text x="775.3" y="830.2" font-size="12" style="stroke:#0d0d0d;stroke-width:0.5px;stroke-linejoin:round;">7</text>
<polyline points="796.1,828.9 900,831.5 1100,834 1233.4,835.8 1233.8,746.5 1233.5,723.2"/>
<text x="766" y="841.2" font-size="12" style="stroke:#0d0d0d;stroke-width:0.5px;stroke-linejoin:round;">8</text>
<text x="764.6" y="853.4" font-size="12" style="stroke:#0d0d0d;stroke-width:0.5px;stroke-linejoin:round;">9</text>
<text x="691.7" y="873.9" font-size="12" style="stroke:#0d0d0d;stroke-width:0.5px;stroke-linejoin:round;">3</text>
<polyline points="712.3,869.9 800,871.3 862.6,873.1 891.3,873.4"/>
<circle cx="862.6" cy="873.1" r="3.7" fill="#0d0d0d" stroke="none"/>
<text x="895.8" y="877.4" font-size="12" style="stroke:#0d0d0d;stroke-width:0.5px;stroke-linejoin:round;">3</text>
<polyline points="906,873.9 1100,877.9 1223.3,879.5 1222.9,722.2"/>
<polyline points="862.6,873.1 896.6,851.2 899.6,544.2 952.7,544.4"/>
</g>
<g id="seat" stroke-width="1.6">
<circle cx="964.7" cy="544.4" r="12" fill="#fff" stroke-width="1.3"/>
<polyline points="964.3,539.4 957.4,544.4 964.3,549.6" stroke-width="1.4"/>
<polyline points="976.6,545 968,544.8" stroke-width="1.4"/>
<path d="M966.2 544.7 l5.6 -3.7 l0 7.4 z" stroke-width="0.8" fill="#0d0d0d"/>
<polyline points="976.8,545 1005.5,546.1 1005.3,672 1012.3,676.9"/>
<text x="1014.3" y="564" font-size="14.4" style="word-spacing:5.8px;stroke:#0d0d0d;stroke-width:0.8px;stroke-linejoin:round;" textLength="164.9" lengthAdjust="spacingAndGlyphs" transform="rotate(0.5 1014.3 564)">SEAT ADJUSTER MOTOR</text>
<polygon points="1021.6,577.7 1028.3,577.8 1028,597.1 1021.3,597" fill="#fff" stroke-width="1.5"/>
<polyline points="1027.3,579.6 1022.5,582.7 1027.3,586" stroke-width="1.1"/>
<polyline points="1027.3,589.5 1022.5,592.6 1027.3,595.9" stroke-width="1.1"/>
<circle cx="1049.5" cy="587.9" r="14.2" fill="#fff" stroke-width="1.5"/>
<circle cx="1042.5" cy="587.1" r="6" fill="#fff" stroke-width="1.6"/>
<polyline points="1039.9,589.6 1045.1,589.6" stroke-width="1.1"/>
<polyline points="1042.3,584 1042.3,588.3" stroke-width="1.3"/>
<polyline points="1064.4,588.4 1067.6,588.5" stroke-width="1.1"/>
<polyline points="1071.2,588.5 1071.2,593.8"/>
<polyline points="1071.6,602.3 1071.6,609.6" stroke-width="1.3"/>
<polyline points="1061.8,609.9 1081.9,610.1" stroke-dasharray="7.5 2 7 2 7"/>
<polyline points="1065.8,613.9 1077.9,614"/>
<polyline points="1068.2,616.4 1075.1,616.5"/>
<polyline points="1070.4,618.8 1072.8,618.8" stroke-width="1.1"/>
<polyline points="1021.6,582.2 995.6,582.2 995.4,613"/>
<text x="987.5" y="628.2" font-size="12" style="stroke:#0d0d0d;stroke-width:0.5px;stroke-linejoin:round;" textLength="12.6" lengthAdjust="spacingAndGlyphs">12</text>
<polyline points="995.2,631.6 994.8,675.8"/>
<polyline points="1021.6,592.5 1014.9,592.5 1014.9,613.5"/>
<text x="1009.5" y="628.2" font-size="12" style="stroke:#0d0d0d;stroke-width:0.5px;stroke-linejoin:round;" textLength="12.1" lengthAdjust="spacingAndGlyphs">13</text>
<polyline points="1014.9,632.2 1014.9,639.4 1031.8,639.6 1031.6,675.8"/>
<polyline points="986.7,667.6 1037.3,668.2 1037.1,689.4 986.5,688.8 986.7,667.6 1000,667.8" stroke-width="1.3"/>
<circle cx="994.8" cy="678.3" r="2.6" fill="#fff" stroke-width="1.4"/>
<circle cx="1014.1" cy="678.4" r="2.6" fill="#fff" stroke-width="1.4"/>
<circle cx="1031.5" cy="678.5" r="2.6" fill="#fff" stroke-width="1.4"/>
<text x="917" y="681.8" font-size="12.7" style="stroke:#0d0d0d;stroke-width:0.5px;stroke-linejoin:round;" textLength="58.5" lengthAdjust="spacingAndGlyphs" transform="rotate(0.4 917 681.8)">FORWARD</text>
<text x="1047.1" y="683.6" font-size="12.7" style="stroke:#0d0d0d;stroke-width:0.5px;stroke-linejoin:round;" textLength="62.4" lengthAdjust="spacingAndGlyphs" transform="rotate(0.4 1047.1 683.6)">REARWARD</text>
<text x="1000.1" y="703.8" font-size="12.7" style="stroke:#0d0d0d;stroke-width:0.5px;stroke-linejoin:round;" textLength="26.3" lengthAdjust="spacingAndGlyphs" transform="rotate(0.4 1000.1 703.8)">FEED</text>
<text x="958.6" y="724.7" font-size="14.4" style="word-spacing:5.9px;stroke:#0d0d0d;stroke-width:0.8px;stroke-linejoin:round;" textLength="127.3" lengthAdjust="spacingAndGlyphs" transform="rotate(0.6 958.6 724.7)">HORIZONTAL SEAT</text>
<text x="958.4" y="740.8" font-size="14.4" style="word-spacing:6.2px;stroke:#0d0d0d;stroke-width:0.8px;stroke-linejoin:round;" textLength="126.2" lengthAdjust="spacingAndGlyphs" transform="rotate(0.6 958.4 740.8)">ADJUSTER SWITCH</text>
</g>
<g id="lr">
<text x="1118.2" y="614.8" font-size="14.4" style="word-spacing:6.8px;stroke:#0d0d0d;stroke-width:0.8px;stroke-linejoin:round;" textLength="143.5" lengthAdjust="spacingAndGlyphs" transform="rotate(0.5 1118.2 614.8)">LEFT REAR DOOR OR</text>
<text x="1118.1" y="631.6" font-size="14.4" style="word-spacing:5.7px;stroke:#0d0d0d;stroke-width:0.8px;stroke-linejoin:round;" textLength="132.4" lengthAdjust="spacingAndGlyphs" transform="rotate(0.5 1118.1 631.6)">QUARTER WINDOW</text>
<text x="1118" y="647.7" font-size="14.4" style="word-spacing:6.1px;stroke:#0d0d0d;stroke-width:0.8px;stroke-linejoin:round;" textLength="121.7" lengthAdjust="spacingAndGlyphs" transform="rotate(0.5 1118 647.7)">CONTROL SWITCH</text>
<polygon points="1167.3,659.2 1188.3,659.5 1187.7,701.2 1166.7,700.9" fill="#fff"/>
<polyline points="1179.8,667.9 1211.8,668.3 1212,711.7"/>
<polyline points="1179.8,679.5 1223.3,680.1 1223.2,703"/>
<polyline points="1179.8,690.9 1233.4,691.8 1233.4,704.3"/>
<circle cx="1177.4" cy="667.9" r="2.4" fill="#fff" stroke-width="1.4"/>
<circle cx="1177.4" cy="679.5" r="2.4" fill="#fff" stroke-width="1.4"/>
<circle cx="1177.4" cy="690.8" r="2.4" fill="#fff" stroke-width="1.4"/>
<text x="1144.9" y="666.5" font-size="12.7" style="stroke:#0d0d0d;stroke-width:0.5px;stroke-linejoin:round;" textLength="13.7" lengthAdjust="spacingAndGlyphs" transform="rotate(0.4 1144.9 666.5)">UP</text>
<text x="1133.4" y="683.5" font-size="12.7" style="stroke:#0d0d0d;stroke-width:0.5px;stroke-linejoin:round;" textLength="26.2" lengthAdjust="spacingAndGlyphs" transform="rotate(0.4 1133.4 683.5)">FEED</text>
<text x="1121.2" y="698.3" font-size="12.7" style="stroke:#0d0d0d;stroke-width:0.5px;stroke-linejoin:round;" textLength="39" lengthAdjust="spacingAndGlyphs" transform="rotate(0.4 1121.2 698.3)">DOWN</text>
<text x="1208.1" y="725.6" font-size="12" style="stroke:#0d0d0d;stroke-width:0.5px;stroke-linejoin:round;">6</text>
<text x="1221.1" y="717.1" font-size="12" style="stroke:#0d0d0d;stroke-width:0.5px;stroke-linejoin:round;">3</text>
<text x="1233.6" y="717.9" font-size="12" style="stroke:#0d0d0d;stroke-width:0.5px;stroke-linejoin:round;">7</text>
<circle cx="1212.2" cy="736.8" r="3.8" fill="#0d0d0d" stroke="none"/>
<circle cx="1233.8" cy="746.5" r="3.8" fill="#0d0d0d" stroke="none"/>
<polyline points="1212.2,736.8 1243.5,737"/>
<text x="1250.6" y="740" font-size="12" style="stroke:#0d0d0d;stroke-width:0.5px;stroke-linejoin:round;">6</text>
<polyline points="1261.7,737.3 1275.5,737.4"/>
<polyline points="1233.8,746.5 1247.6,746.9"/>
<text x="1253.2" y="751.7" font-size="12" style="stroke:#0d0d0d;stroke-width:0.5px;stroke-linejoin:round;">7</text>
<polyline points="1263.3,747.7 1275.5,747.9"/>
<polygon points="1274.8,732.3 1282.2,732.4 1281.8,753.3 1274.4,753.2" fill="#fff" stroke-width="1.5"/>
<polyline points="1281.2,733.5 1275.7,736.6 1281.2,739.9" stroke-width="1.1"/>
<polyline points="1281.2,744.2 1275.7,747.3 1281.2,750.6" stroke-width="1.1"/>
<circle cx="1302.5" cy="742.6" r="15.2" fill="#fff" stroke-width="1.5"/>
<circle cx="1294.8" cy="743.8" r="7.2" fill="#fff" stroke-width="1.6"/>
<polyline points="1291.6,746.8 1298,746.8" stroke-width="1.1"/>
<polyline points="1294.6,740.1 1294.6,745.2" stroke-width="1.3"/>
<polyline points="1318.2,743.6 1320.6,743.6"/>
<polyline points="1324.4,743.6 1327.4,743.6"/>
<polyline points="1328.2,732.6 1328.4,754.6" stroke-width="1.3" stroke-dasharray="4.2 5.3 4.8 2.9 4.8 99"/>
<polyline points="1331.5,737.6 1331.6,749.6" stroke-width="1.3" stroke-dasharray="2.8 1.4 3.5 1.4 2.8 99"/>
<polyline points="1334.1,740.6 1334.2,746.6" stroke-width="1.3"/>
<polyline points="1336.1,742.4 1336.1,744.8" stroke-width="1.3"/>
<text x="1258.7" y="776.8" font-size="14.4" style="word-spacing:7.6px;stroke:#0d0d0d;stroke-width:0.8px;stroke-linejoin:round;" textLength="68.1" lengthAdjust="spacingAndGlyphs" transform="rotate(0.5 1258.7 776.8)">LEFT REAR</text>
<text x="1258.6" y="793.4" font-size="14.4" style="word-spacing:6.2px;stroke:#0d0d0d;stroke-width:0.8px;stroke-linejoin:round;" textLength="105.1" lengthAdjust="spacingAndGlyphs" transform="rotate(0.5 1258.6 793.4)">DOOR OR QTR.</text>
<text x="1258.5" y="809.8" font-size="14.4" style="word-spacing:5.2px;stroke:#0d0d0d;stroke-width:0.8px;stroke-linejoin:round;" textLength="121.5" lengthAdjust="spacingAndGlyphs" transform="rotate(0.5 1258.5 809.8)">WINDOW MOTOR</text>
<rect x="1204.8" y="844.8" width="1.6" height="1.6" fill="#0d0d0d" stroke="none"/>
</g>
</svg>
</body>
</html>
